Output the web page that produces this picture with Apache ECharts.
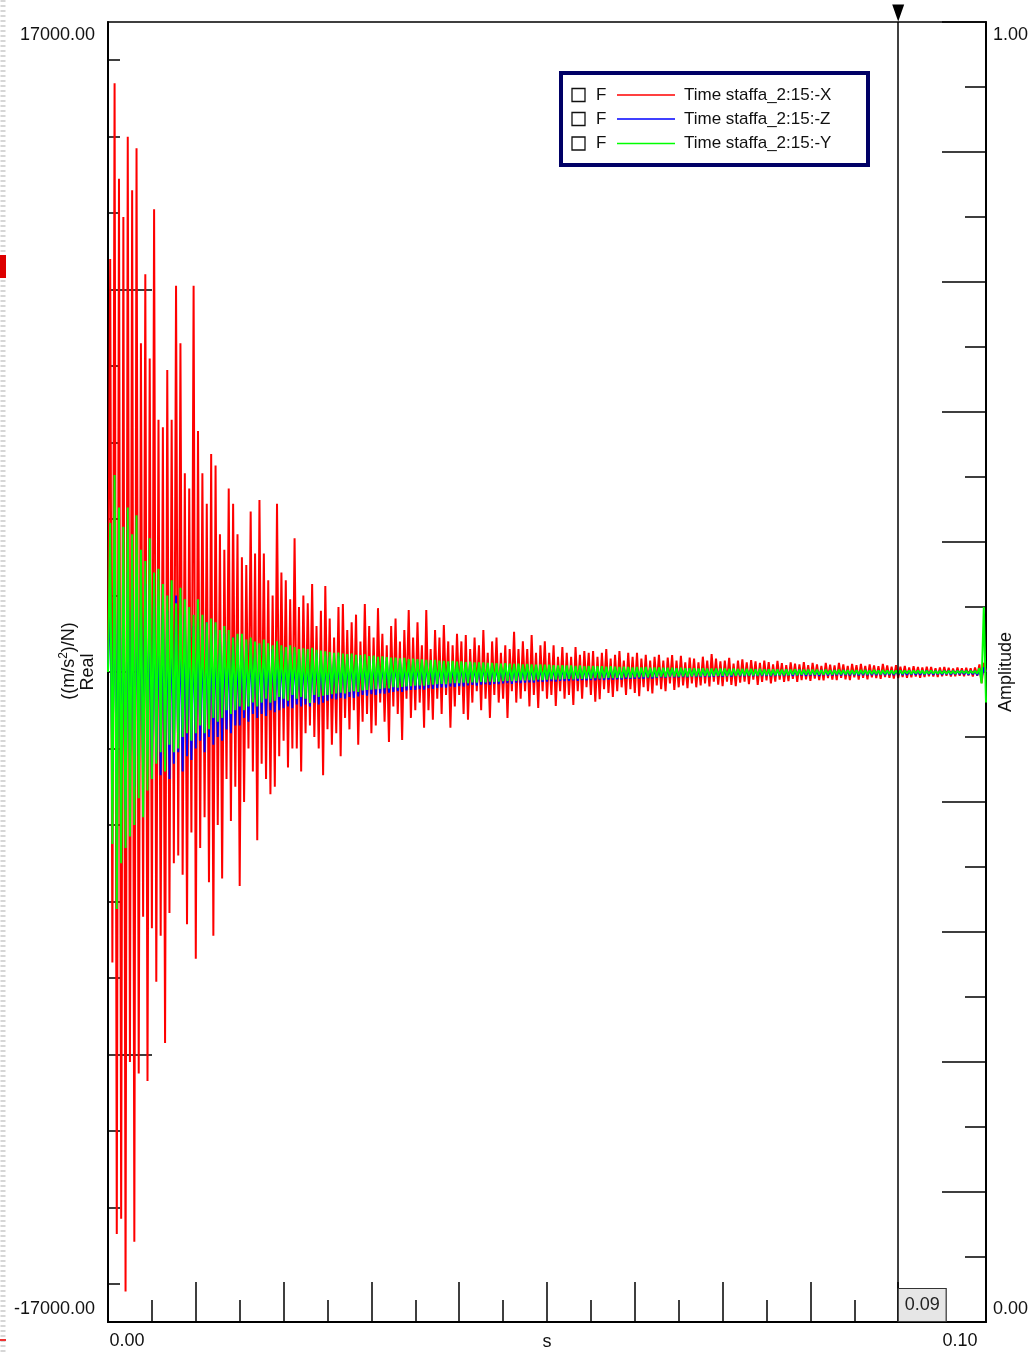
<!DOCTYPE html>
<html>
<head>
<meta charset="utf-8">
<title>Time staffa</title>
<script src="https://cdn.jsdelivr.net/npm/echarts@6/dist/echarts.min.js"></script>
<style>
  html, body { margin: 0; padding: 0; background: #fff; }
  #chart { width: 1035px; height: 1355px; }
</style>
</head>
<body>
<div id="chart"></div>
<script>
// ---------------- data ----------------
const seriesNames = ['Time staffa_2:15:-X', 'Time staffa_2:15:-Z', 'Time staffa_2:15:-Y'];
const seriesColors = ['#ff0000', '#0000ff', '#00ff00'];
const sampleStep = 0.00025;       // s between samples
const cursorX = 0.09;             // cursor position, s
const xRange = [0, 0.1];
const yRange = [-17000, 17000];
const ampRange = [0, 1];
const yMinorTicks = [-16000, -14000, -12000, -10000, -8000, -6000, -4000, -2000, 0, 2000, 4000, 6000, 8000, 10000, 12000, 14000, 16000];
const yMajorTicks = [-10000, 0, 10000];

// X direction, ((m/s^2)/N)
const redX = [
  0, 10800, -7600, 15400, -14700, 12900, -14300, 11900, -16200, 14000,
  -10200, 12600, -14900, 13700, -10500, 8600, -6400, 10400, -10700, 8200,
  -6700,
  12100, -8100, 6600, -6900, 6400, -9700, 7900, -6300, 6600, -5000,
  10100, -4800, 8600, -5300, 5200, -6600, 4800, -4200, 10100, -7500,
  6300, -4600, 5200, -3800, 4400, -5500, 5700, -6900, 5400, -4000,
  3600, -5400, 3200, -2800, 4800, -3900, 4400, -3000, 3600, -5600,
  3000, -3400, 2800, -2000, 4200, -2600, 3100, -4400, 4500, -2400,
  3100, -2800, 2400, -3200, 2000, -3000, 4400, -2200, 2600, -1800,
  2400, -2500, 1900, -2000, 3500, -2000, 1700, -2600, 2000, -1600,
  1800, -1400, 2300, -1700, 1200, -2000, 1600, -2700, 2250, -1500,
  1400, -1900, 900, -1600, 1700, -2200, 1780, -1200, 1100, -1500,
  1300, -1000, 1500, -1900, 800, -1300, 1780, -1100, 1200, -1600,
  900, -1400, 1670, -800, 1000, -1300, 700, -1830, 1200, -900,
  1400, -1100, 800, -1780, 1100, -700, 1620, -1200, 900, -1000,
  1300, -800, 700, -1460, 1620, -1000, 600, -1250, 1100, -700,
  900, -1100, 1230, -600, 800, -1460, 700, -900, 1000, -600,
  800, -1100, 970, -1250, 600, -800, 900, -500, 700, -1000,
  1100, -700, 500, -1200, 800, -600, 900, -800, 500, -700,
  700, -1200, 600, -500, 1050, -800, 600, -700, 800, -500,
  600, -900, 970, -600, 500, -940, 700, -500, 800, -700,
  500, -600, 700, -890, 400, -500, 650, -700, 500, -600,
  400, -860, 650, -500, 450, -700, 550, -400, 500, -600,
  550, -780, 400, -710, 500, -450, 600, -550, 350, -650,
  450, -500, 550, -400, 300, -600, 500, -450, 400, -550,
  500, -630, 350, -400, 450, -500, 300, -560, 400, -350,
  450, -450, 300, -500, 380, -300, 440, -470, 300, -400,
  420, -350, 250, -420, 380, -300, 350, -400, 250, -350,
  400, -300, 300, -380, 470, -250, 350, -330, 280, -370,
  300, -250, 370, -340, 220, -370, 300, -280, 330, -250,
  250, -320, 310, -200, 280, -340, 240, -260, 300, -220,
  260, -300, 200, -250, 290, -200, 230, -260, 180, -240,
  250, -180, 220, -260, 200, -210, 260, -190, 180, -230,
  240, -170, 200, -210, 160, -220, 240, -160, 190, -200,
  170, -210, 240, -150, 200, -190, 160, -210, 210, -140,
  180, -200, 210, -150, 160, -190, 200, -140, 170, -160,
  150, -180, 210, -130, 170, -150, 140, -170, 180, -160,
  140, -130, 160, -150, 120, -140, 150, -120, 130, -150,
  120, -130, 140, -110, 130, -120, 100, -130, 120, -110,
  130, -100, 110, -120, 90, -110, 120, -100, 100, -110,
  110, -90, 100, -120, 120, -100, 200, -290, 240, 0
];

// Z direction
const blueZ = [
  0, 2200, -2600, 2800, -3300, 2400, -2800, 2000, -3600, 2600,
  -2400, 2200, -3000, 2500, -2200, 1900, -2600, 2300, -2000, 1800,
  -2800, 2000, -2300, 1700, -2700, 1900, -2500, 1600, -2800, 1800,
  -2400, 2000, -2100, 1400, -2600, 1500, -2200, 1300, -2300, 1200,
  -2000, 1400, -1800, 1100, -2100, 1300, -1700, 1000, -1900, 1100,
  -1700, 900, -1800, 1000, -1500, 800, -1600, 900, -1400, 700,
  -1400, 800, -1200, 700, -1300, 800, -1100, 600, -1200, 700,
  -1100, 600, -1150, 500, -1000, 600, -1050, 500, -1000, 550,
  -950, 500, -900, 450, -950, 500, -850, 450, -900, 400,
  -850, 450, -900, 400, -800, 500, -850, 380, -800, 420,
  -750, 400, -700, 350, -720, 420, -680, 360, -700, 380,
  -650, 400, -680, 330, -640, 380, -600, 340, -620, 300,
  -580, 350, -600, 300, -560, 330, -570, 280, -540, 320,
  -520, 280, -500, 300, -520, 260, -480, 280, -470, 250,
  -470, 270, -450, 240, -460, 260, -420, 230, -440, 220,
  -420, 240, -400, 210, -410, 230, -380, 200, -390, 210,
  -370, 220, -380, 190, -350, 210, -340, 180, -360, 190,
  -330, 200, -320, 170, -340, 180, -310, 170, -320, 160,
  -300, 170, -290, 150, -310, 160, -280, 150, -290, 140,
  -280, 150, -270, 140, -280, 150, -250, 130, -260, 140,
  -250, 140, -240, 120, -250, 130, -230, 120, -240, 110,
  -230, 120, -220, 110, -230, 120, -210, 100, -220, 110,
  -210, 110, -220, 100, -200, 110, -210, 100, -200, 90,
  -200, 100, -190, 90, -200, 100, -180, 90, -180, 80,
  -180, 90, -170, 80, -180, 90, -160, 80, -170, 80,
  -150, 100, -140, 90, -150, 100, -130, 90, -140, 90,
  -140, 90, -130, 80, -140, 90, -120, 80, -130, 80,
  -130, 80, -120, 80, -130, 70, -120, 80, -110, 70,
  -120, 70, -110, 70, -120, 70, -100, 60, -110, 70,
  -110, 60, -100, 70, -110, 60, -100, 60, -100, 60,
  -100, 60, -110, 50, -100, 60, -90, 50, -100, 60,
  -90, 50, -100, 50, -90, 60, -90, 50, -100, 50,
  -90, 50, -90, 40, -100, 50, -80, 50, -90, 40,
  -90, 50, -80, 40, -90, 50, -80, 40, -90, 40,
  -80, 40, -90, 40, -80, 50, -80, 40, -80, 40,
  -80, 40, -70, 40, -80, 40, -70, 30, -80, 40,
  -70, 40, -80, 30, -70, 40, -70, 30, -70, 40,
  -70, 30, -70, 40, -60, 30, -70, 30, -60, 30,
  -70, 30, -60, 30, -70, 30, -60, 30, -60, 30,
  -60, 30, -70, 30, -60, 30, -80, 60, -150, 120, 0
];

// Y direction
const greenY = [
  0, 3900, -4500, 5150, -6200, 4300, -5000, 3800, -4600, 4300,
  -4300, 3600, -4000, 4100, -3300, 3200, -3800, 2900, -3100, 3500,
  -2800, 2600, -2400, 2700, -2100, 2300, -2600, 2000, -1900, 2400,
  -2100, 1800, -2000, 2200, -1700, 1900, -1600, 1700, -1800, 1500,
  -1600, 1900, -1400, 1500, -1600, 1300, -1500, 1400, -1200, 1300,
  -1300, 1100, -1200, 1200, -1000, 1100, -1100, 900, -1000, 1000,
  -900, 1000, -1000, 850, -900, 900, -800, 800, -900, 750,
  -800, 850, -700, 750, -800, 700, -750, 800, -650, 700,
  -700, 650, -750, 700, -600, 650, -700, 600, -650, 620,
  -700, 600, -810, 630, -600, 580, -650, 560, -620, 540,
  -600, 520, -580, 500, -560, 510, -540, 480, -560, 470,
  -520, 480, -500, 450, -520, 440, -480, 460, -470, 420,
  -460, 430, -450, 400, -440, 410, -420, 390, -430, 380,
  -400, 380, -410, 360, -390, 370, -380, 340, -370, 350,
  -360, 340, -350, 330, -360, 320, -340, 310, -330, 320,
  -320, 300, -310, 290, -320, 280, -300, 290, -290, 270,
  -290, 280, -280, 260, -290, 270, -270, 250, -280, 250,
  -260, 250, -270, 240, -250, 240, -260, 230, -250, 220,
  -240, 230, -230, 220, -240, 210, -230, 220, -220, 200,
  -220, 210, -210, 200, -220, 190, -200, 200, -210, 190,
  -200, 190, -190, 180, -200, 170, -190, 180, -180, 170,
  -180, 170, -190, 160, -170, 170, -180, 150, -170, 160,
  -170, 160, -160, 150, -170, 150, -160, 140, -150, 150,
  -160, 140, -150, 130, -160, 140, -140, 130, -150, 120,
  -140, 130, -140, 120, -130, 130, -140, 110, -130, 120,
  -130, 120, -120, 110, -130, 110, -120, 110, -120, 100,
  -120, 110, -110, 100, -120, 100, -110, 100, -110, 90,
  -110, 100, -100, 90, -110, 90, -100, 90, -100, 90,
  -100, 90, -100, 80, -90, 90, -100, 80, -90, 80,
  -90, 80, -90, 80, -90, 70, -90, 80, -80, 70,
  -80, 70, -90, 70, -80, 70, -80, 60, -80, 70,
  -80, 60, -70, 70, -80, 60, -70, 60, -70, 60,
  -70, 60, -70, 60, -70, 50, -70, 60, -60, 50,
  -70, 50, -60, 60, -60, 50, -60, 50, -60, 50,
  -60, 50, -60, 50, -50, 50, -60, 40, -50, 50,
  -50, 40, -60, 50, -50, 40, -50, 40, -50, 40,
  -50, 40, -50, 40, -40, 40, -50, 40, -40, 40,
  -40, 40, -50, 30, -40, 40, -40, 30, -40, 30,
  -40, 30, -40, 30, -40, 30, -40, 30, -30, 30,
  -30, 30, -40, 30, -30, 30, -40, 100, -300, 1700, -800
];

// ---------------- chart ----------------
const FONT = '"Liberation Sans", Arial, Helvetica, sans-serif';
const chart = echarts.init(document.getElementById('chart'), null, { renderer: 'canvas' });

function toPoints(arr) {
  return arr.map((v, i) => [Math.round(i * sampleStep * 1e6) / 1e6, v]);
}
const lineWidths = [2, 2, 2];
const lineSeries = [redX, blueZ, greenY].map((arr, k) => ({
  name: seriesNames[k],
  type: 'line',
  xAxisIndex: 0,
  yAxisIndex: 0,
  data: toPoints(arr),
  showSymbol: false,
  symbol: 'none',
  lineStyle: { color: seriesColors[k], width: lineWidths[k] },
  itemStyle: { color: seriesColors[k] },
  silent: true,
  z: 2 + k
}));

const tickStyle = { color: '#000', width: 1.5 };
const near = (a, b) => Math.abs(a - b) < 1e-9;

// legend drawn as graphic (box, checkbox, "F", line swatch, name)
const legendRows = [95, 119, 143.5];
const legendGraphics = [
  { type: 'rect', shape: { x: 561, y: 73, width: 307, height: 92 },
    style: { fill: '#fff', stroke: '#000066', lineWidth: 4 }, z: 50 }
];
seriesNames.forEach((nm, k) => {
  const y = legendRows[k];
  legendGraphics.push(
    { type: 'rect', shape: { x: 572, y: y - 6.5, width: 13, height: 13 },
      style: { fill: '#fff', stroke: '#111', lineWidth: 1.3 }, z: 51 },
    { type: 'text', x: 596, y: y, style: { text: 'F', fontSize: 17, fontFamily: FONT, fill: '#111', verticalAlign: 'middle', align: 'left' }, z: 51 },
    { type: 'line', shape: { x1: 617, y1: y, x2: 675, y2: y }, style: { stroke: seriesColors[k], lineWidth: 1.5 }, z: 51 },
    { type: 'text', x: 684, y: y, style: { text: nm, fontSize: 17, fontFamily: FONT, fill: '#111', verticalAlign: 'middle', align: 'left' }, z: 51 }
  );
});

const option = {
  animation: false,
  backgroundColor: '#fff',
  grid: { left: 108, top: 22, right: 49, bottom: 33, containLabel: false, outerBoundsMode: 'none',
          show: true, borderColor: '#000', borderWidth: 1.5, backgroundColor: 'transparent' },
  xAxis: [
    {
      type: 'value', min: xRange[0], max: xRange[1], interval: 0.005, position: 'bottom',
      axisLine: { show: true, onZero: false, lineStyle: { color: '#000', width: 2 } },
      axisTick: { show: true, inside: true, length: 22, lineStyle: tickStyle },
      splitLine: { show: false },
      axisLabel: {
        margin: 10, color: '#111', fontSize: 18, fontFamily: FONT,
        formatter: v => near(v, xRange[0]) ? '{l|' + v.toFixed(2) + '}' : (near(v, xRange[1]) ? '{r|' + v.toFixed(2) + '}' : ''),
        rich: {
          l: { fontSize: 18, fontFamily: FONT, color: '#111', padding: [0, 0, 0, 38] },
          r: { fontSize: 18, fontFamily: FONT, color: '#111', padding: [0, 52, 0, 0] }
        }
      },
      name: 's', nameLocation: 'middle', nameGap: 11, nameMoveOverlap: false,
      nameTextStyle: { fontSize: 18, fontFamily: FONT, color: '#111', verticalAlign: 'top' }
    },
    {
      type: 'value', min: xRange[0], max: xRange[1], interval: 0.01, position: 'bottom',
      axisLine: { show: false, onZero: false },
      axisTick: { show: true, inside: true, length: 40, lineStyle: tickStyle },
      axisLabel: { show: false }, splitLine: { show: false }
    }
  ],
  yAxis: [
    {
      type: 'value', min: yRange[0], max: yRange[1], interval: 17000, position: 'left',
      axisLine: { show: true, onZero: false, lineStyle: { color: '#000', width: 2 } },
      axisTick: { show: true, inside: true, length: 12, customValues: yMinorTicks, lineStyle: tickStyle },
      splitLine: { show: false },
      axisLabel: {
        margin: 13, color: '#111', fontSize: 18, fontFamily: FONT,
        formatter: v => near(v, yRange[1]) ? '{t|' + v.toFixed(2) + '}' : (near(v, yRange[0]) ? '{b|' + v.toFixed(2) + '}' : ''),
        rich: {
          t: { fontSize: 18, fontFamily: FONT, color: '#111', padding: [26, 0, 0, 0] },
          b: { fontSize: 18, fontFamily: FONT, color: '#111', padding: [0, 0, 26, 0] }
        }
      }
    },
    {
      type: 'value', min: yRange[0], max: yRange[1], interval: 17000, position: 'left',
      axisLine: { show: false, onZero: false },
      axisTick: { show: true, inside: true, length: 44, customValues: yMajorTicks, lineStyle: tickStyle },
      axisLabel: { show: false }, splitLine: { show: false }
    },
    {
      type: 'value', min: ampRange[0], max: ampRange[1], interval: 0.05, position: 'right',
      axisLine: { show: true, onZero: false, lineStyle: { color: '#000', width: 2 } },
      axisTick: { show: true, inside: true, length: 21, lineStyle: tickStyle },
      splitLine: { show: false },
      axisLabel: {
        margin: 7, color: '#111', fontSize: 18, fontFamily: FONT,
        formatter: v => near(v, ampRange[1]) ? '{t|' + v.toFixed(2) + '}' : (near(v, ampRange[0]) ? '{b|' + v.toFixed(2) + '}' : ''),
        rich: {
          t: { fontSize: 18, fontFamily: FONT, color: '#111', padding: [26, 0, 0, 0] },
          b: { fontSize: 18, fontFamily: FONT, color: '#111', padding: [0, 0, 26, 0] }
        }
      },
      name: 'Amplitude', nameLocation: 'middle', nameRotate: 90, nameGap: 11, nameMoveOverlap: false,
      nameTextStyle: { fontSize: 18, fontFamily: FONT, color: '#111', verticalAlign: 'top' }
    },
    {
      type: 'value', min: ampRange[0], max: ampRange[1], interval: 0.1, position: 'right',
      axisLine: { show: false, onZero: false },
      axisTick: { show: true, inside: true, length: 44, lineStyle: tickStyle },
      axisLabel: { show: false }, splitLine: { show: false }
    }
  ],
  series: lineSeries.concat([{
    name: 'cursor', type: 'line', xAxisIndex: 0, yAxisIndex: 0, data: [], silent: true, z: 10,
    markLine: {
      silent: true, symbol: 'none', animation: false,
      lineStyle: { color: '#000', width: 1.5, type: 'solid' },
      label: { show: false },
      data: [{ xAxis: cursorX }]
    },
    markPoint: {
      silent: true, animation: false,
      data: [
        { coord: [cursorX, yRange[1]], symbol: 'triangle', symbolSize: [12, 17], symbolRotate: 180,
          symbolOffset: [0, -9], itemStyle: { color: '#000' }, label: { show: false } },
        { coord: [cursorX, yRange[0]], symbol: 'rect', symbolSize: [48, 33], symbolOffset: [24, -17],
          itemStyle: { color: '#e6e6e6', borderColor: '#333', borderWidth: 1 },
          label: { show: true, position: 'inside', formatter: cursorX.toFixed(2), color: '#222', fontSize: 18, fontFamily: FONT } }
      ]
    }
  }]),
  graphic: [
    // left-edge strip artifacts
    { type: 'line', shape: { x1: 3, y1: 0, x2: 3, y2: 1355 }, style: { stroke: '#d6d6d6', lineWidth: 5, lineDash: [2, 3] }, z: 1 },
    { type: 'rect', shape: { x: 0, y: 255, width: 6, height: 23 }, style: { fill: '#dd0000' }, z: 2 },
    { type: 'rect', shape: { x: 0, y: 1339, width: 6, height: 2 }, style: { fill: '#ee3333' }, z: 2 },
    // left axis title (rotated)
    { type: 'text', x: 69, y: 661, rotation: Math.PI / 2,
      style: { text: '{n|((m/s}{s|2}{n|)/N)}', align: 'center', verticalAlign: 'middle',
        rich: { n: { fontSize: 18, fontFamily: FONT, fill: '#111', lineHeight: 22 },
                s: { fontSize: 12, fontFamily: FONT, fill: '#111', verticalAlign: 'top', lineHeight: 12 } } }, z: 20 },
    { type: 'text', x: 88, y: 672, rotation: Math.PI / 2,
      style: { text: 'Real', fontSize: 18, fontFamily: FONT, fill: '#111', align: 'center', verticalAlign: 'middle' }, z: 20 }
  ].concat(legendGraphics)
};
chart.setOption(option);
</script>
</body>
</html>
